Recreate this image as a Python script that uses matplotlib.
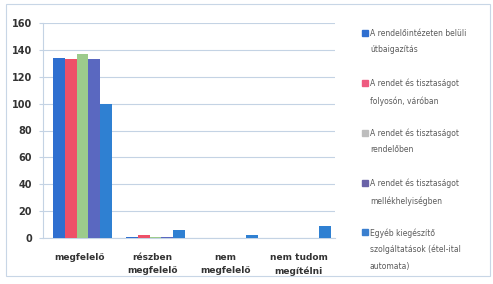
import numpy as np
import matplotlib.pyplot as plt
from matplotlib.patches import Rectangle

categories = ["megfelelő", "részben\nmegfelelő", "nem\nmegfelelő", "nem tudom\nmegítélni"]
series_names = [
    "A rendelőintézeten belüli\nútbaigazítás",
    "A rendet és tisztaságot\nfolyosón, váróban",
    "A rendet és tisztaságot\nrendelőben",
    "A rendet és tisztaságot\nmellékhelyiségben",
    "Egyéb kiegészítő\nszolgáltatások (étel-ital\nautomata)",
]
values = [
    [134, 1, 0, 0],
    [133, 2, 0, 0],
    [137, 1, 0, 0],
    [133, 1, 0, 0],
    [100, 6, 2, 9],
]
bar_colors = ["#2f6fd0", "#ee5068", "#9ccb8c", "#5a68c0", "#2f80d2"]
legend_colors = ["#2f6fd0", "#ee5a80", "#bdbdbd", "#6a62a8", "#3a7fcf"]
yticks = [0, 20, 40, 60, 80, 100, 120, 140, 160]

fig = plt.figure(figsize=(4.93, 2.84), dpi=100)
ax = fig.add_axes([43 / 493, 1 - 238 / 284, (335 - 43) / 493, (238 - 23) / 284])

x = np.arange(len(categories))
n = len(values)
width = 0.8 / n
for i, (vals, col) in enumerate(zip(values, bar_colors)):
    ax.bar(x - 0.36 + width * (i + 0.5), vals, width, color=col, zorder=3)

ax.set_xlim(-0.5, len(categories) - 0.5)
ax.set_ylim(0, 160)
ax.set_yticks(yticks)
ax.set_xticks(x)
ax.set_xticklabels(categories, fontsize=6.5, fontweight="bold", color="#333333",
                   linespacing=1.6)
ax.tick_params(axis="y", labelsize=7, colors="#c4d3e4", length=3, width=0.8,
               pad=5)
for lab in ax.get_yticklabels():
    lab.set_color("#333333")
    lab.set_fontweight("bold")
ax.tick_params(axis="x", length=0, pad=11)
ax.grid(axis="y", color="#c4d3e4", linewidth=0.8, zorder=0)
for s in ["top", "right"]:
    ax.spines[s].set_visible(False)
ax.spines["left"].set_color("#c4d3e4")
ax.spines["bottom"].set_color("#c4d3e4")

# manual legend
ys = [33, 83, 133, 183, 232]
for name, col, yy in zip(series_names, legend_colors, ys):
    fig.patches.append(Rectangle((362 / 493, 1 - (yy + 3) / 284), 6 / 493, 6 / 284,
                                 transform=fig.transFigure, color=col))
    fig.text(370 / 493, 1 - (yy - 4) / 284, name, fontsize=5.5, color="#5a5a5a",
             va="top", ha="left", linespacing=2.0)

# outer border
fig.patches.append(Rectangle((6 / 493, 8 / 284), 484 / 493, 272 / 284,
                             transform=fig.transFigure, fill=False,
                             edgecolor="#c8d6e6", linewidth=0.8))

fig.savefig("out.png", dpi=100)
